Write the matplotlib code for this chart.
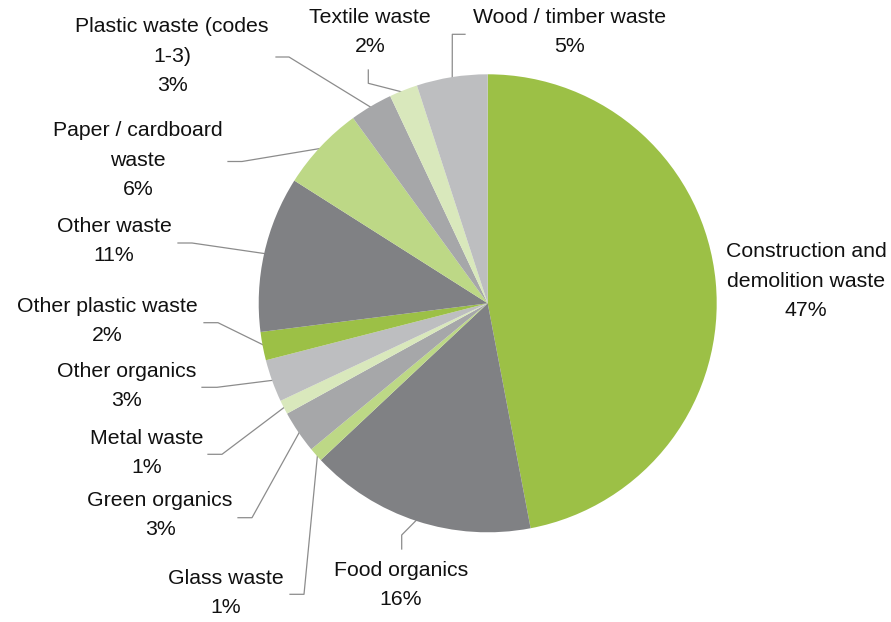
import matplotlib.pyplot as plt
import numpy as np

plt.rcParams['font.family'] = ['Liberation Sans', 'DejaVu Sans']

categories = [
    "Construction and\ndemolition waste",
    "Food organics",
    "Glass waste",
    "Green organics",
    "Metal waste",
    "Other organics",
    "Other plastic waste",
    "Other waste",
    "Paper / cardboard\nwaste",
    "Plastic waste (codes\n1-3)",
    "Textile waste",
    "Wood / timber waste",
]
shares = [47, 16, 1, 3, 1, 3, 2, 11, 6, 3, 2, 5]

colors = ["#9cc046", "#808184", "#bdd886", "#a6a7a9", "#d9e8bc", "#bdbec0"] * 2

# pie centre / radius in pixels, used to place labels in data units
CX, CY, R = 487.7, 303.3, 229.0
W, H = 891, 622


def px(x, y):
    return (x - CX) / R, (CY - y) / R


# label centre (px) and leader path (px) from the label side; last point is on the wedge
label_pos = [
    (806, 281, None),
    (401, 585, [(401.7, 549), (401.7, 535)]),
    (226, 593, [(290, 594.3), (304, 594.3)]),
    (160, 515, [(238, 517.7), (252, 517.7)]),
    (147, 453, [(208, 454.3), (222, 454.3)]),
    (127, 386, [(202, 387.3), (217, 387.3)]),
    (107, 321, [(204, 322.7), (218, 322.7)]),
    (114, 241, [(178, 243), (192, 243)]),
    (138, 160, [(228, 161.5), (242, 161.5)]),
    (172, 56, [(276, 57), (289, 57)]),
    (370, 32, [(368.3, 70), (368.3, 83.3)]),
    (570, 32, [(465, 34.3), (452.3, 34.3)]),
]

fig = plt.figure(figsize=(W / 100, H / 100), dpi=100)
ax = fig.add_axes([(CX - R) / W, (H - CY - R) / H, 2 * R / W, 2 * R / H])

wedges, _ = ax.pie(shares, colors=colors, startangle=90, counterclock=False,
                   radius=1, wedgeprops=dict(linewidth=0))
ax.set_xlim(-1, 1)
ax.set_ylim(-1, 1)
ax.set_aspect('equal')
ax.axis('off')

for w, name, v, (lx, ly, path) in zip(wedges, categories, shares, label_pos):
    tx, ty = px(lx, ly)
    ax.text(tx, ty, f"{name}\n{v}%", ha='center', va='center', fontsize=15.3,
            color='#111111', linespacing=1.72, clip_on=False)
    if path is None:
        continue
    mid = np.deg2rad((w.theta1 + w.theta2) / 2)
    pts = [px(*p) for p in path] + [(np.cos(mid) * 0.99, np.sin(mid) * 0.99)]
    xs, ys = zip(*pts)
    ax.plot(xs, ys, color='#8c8c8c', lw=0.9, clip_on=False, zorder=0)

fig.savefig("out.png", dpi=100)
